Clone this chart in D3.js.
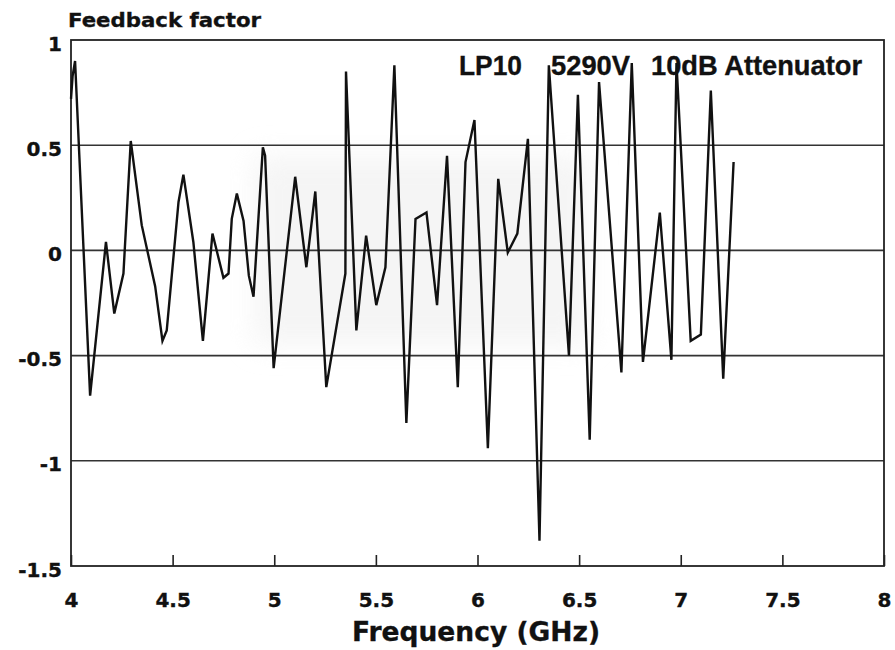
<!DOCTYPE html>
<html>
<head>
<meta charset="utf-8">
<script src="https://cdn.jsdelivr.net/npm/d3@7"></script>
<style>
  html, body { margin: 0; padding: 0; background: #fff; }
  svg text { font-weight: bold; fill: #111; stroke: #111; stroke-width: 0.35px; }
  .dv { font-family: "DejaVu Sans", sans-serif; }
  .lb { font-family: "Liberation Sans", Arial, sans-serif; }
</style>
</head>
<body>
<svg id="chart" width="895" height="650"></svg>
<script>
// Measured feedback factor versus frequency
const freqGHz = [
  4.000, 4.008, 4.020, 4.094, 4.172, 4.213, 4.258, 4.294, 4.348, 4.414,
  4.450, 4.471, 4.529, 4.553, 4.602, 4.649, 4.696, 4.750, 4.775, 4.791,
  4.816, 4.849, 4.875, 4.898, 4.944, 4.955, 4.997, 5.103, 5.158, 5.202,
  5.256, 5.350, 5.353, 5.404, 5.452, 5.502, 5.547, 5.591, 5.650, 5.695,
  5.749, 5.801, 5.850, 5.903, 5.941, 5.985, 6.051, 6.102, 6.149, 6.196,
  6.248, 6.305, 6.351, 6.450, 6.494, 6.552, 6.598, 6.708, 6.759, 6.814,
  6.897, 6.954, 6.979, 7.049, 7.099, 7.148, 7.209, 7.260
];
const feedback = [
  0.72, 0.83, 0.90, -0.69, 0.04, -0.30, -0.11, 0.52, 0.12, -0.17,
  -0.43, -0.38, 0.23, 0.36, 0.04, -0.43, 0.08, -0.13, -0.11, 0.15,
  0.27, 0.14, -0.12, -0.22, 0.49, 0.45, -0.56, 0.35, -0.08, 0.28,
  -0.65, -0.11, 0.85, -0.38, 0.07, -0.26, -0.08, 0.88, -0.82, 0.15,
  0.18, -0.26, 0.45, -0.65, 0.42, 0.62, -0.94, 0.34, -0.01, 0.08,
  0.53, -1.38, 0.88, -0.50, 0.74, -0.90, 0.80, -0.58, 0.89, -0.53,
  0.18, -0.52, 0.89, -0.43, -0.40, 0.76, -0.61, 0.42
];
const xTicks = [4, 4.5, 5, 5.5, 6, 6.5, 7, 7.5, 8];
const yTicks = [1, 0.5, 0, -0.5, -1, -1.5];
const gridValues = [0.5, 0, -0.5, -1];

const svg = d3.select("#chart");
const plotLeft = 71, plotRight = 884, plotTop = 40, plotBottom = 566;

const x = d3.scaleLinear().domain([4, 8]).range([plotLeft, plotRight]);
const y = d3.scaleLinear().domain([-1.5, 1]).range([plotBottom, plotTop]);

// faint grey toning across the middle of the plot
const defs = svg.append("defs");
defs.append("filter").attr("id", "soft")
  .attr("x", "-20%").attr("y", "-20%").attr("width", "140%").attr("height", "140%")
  .append("feGaussianBlur").attr("stdDeviation", 14);
svg.append("rect")
  .attr("x", x(4.9)).attr("y", y(0.45))
  .attr("width", x(6.55) - x(4.9)).attr("height", y(-0.45) - y(0.45))
  .attr("fill", "#f1f1f1").attr("opacity", 0.7)
  .attr("filter", "url(#soft)");

// horizontal grid lines
svg.append("g")
  .selectAll("line")
  .data(gridValues)
  .join("line")
  .attr("x1", plotLeft).attr("x2", plotRight)
  .attr("y1", d => y(d)).attr("y2", d => y(d))
  .attr("stroke", "#333").attr("stroke-width", 1.6);

// frame
svg.append("rect")
  .attr("x", plotLeft).attr("y", plotTop)
  .attr("width", plotRight - plotLeft).attr("height", plotBottom - plotTop)
  .attr("fill", "none").attr("stroke", "#222").attr("stroke-width", 1.8);

// bottom axis: inward ticks, labels below
const xAxis = d3.axisBottom(x)
  .tickValues(xTicks)
  .tickSize(-11)
  .tickFormat(d3.format("~g"));
const gx = svg.append("g").attr("transform", `translate(0,${plotBottom})`).call(xAxis);
gx.select(".domain").remove();
gx.selectAll(".tick line").attr("stroke", "#222").attr("stroke-width", 1.6);
gx.selectAll(".tick text")
  .attr("class", "dv")
  .attr("y", 41).attr("dy", 0)
  .attr("font-family", null).attr("font-size", null)
  .style("font-size", "20px");

// left axis labels
const yAxis = d3.axisLeft(y)
  .tickValues(yTicks)
  .tickSize(0)
  .tickPadding(9)
  .tickFormat(d => d3.format("~g")(d).replace("\u2212", "-"));
const gy = svg.append("g").attr("transform", `translate(${plotLeft},0)`).call(yAxis);
gy.select(".domain").remove();
gy.selectAll(".tick text")
  .attr("class", "dv")
  .attr("dy", "0.5em")
  .style("font-size", "20px");

// data trace
const line = d3.line()
  .x((d, i) => x(freqGHz[i]))
  .y(d => y(d));
svg.append("path")
  .datum(feedback)
  .attr("d", line)
  .attr("fill", "none")
  .attr("stroke", "#111")
  .attr("stroke-width", 2.4)
  .attr("stroke-linejoin", "miter");

// titles
svg.append("text")
  .attr("class", "dv")
  .attr("x", 68).attr("y", 27)
  .attr("textLength", 193).attr("lengthAdjust", "spacingAndGlyphs")
  .style("font-size", "20px")
  .text("Feedback factor");

const notes = [
  { t: "LP10", x0: 459, w: 63 },
  { t: "5290V", x0: 551, w: 79 },
  { t: "10dB Attenuator", x0: 651, w: 211 }
];
svg.append("g").selectAll("text")
  .data(notes)
  .join("text")
  .attr("class", "lb")
  .attr("x", d => d.x0).attr("y", 75)
  .attr("textLength", d => d.w).attr("lengthAdjust", "spacingAndGlyphs")
  .style("font-size", "27px")
  .text(d => d.t);

svg.append("text")
  .attr("class", "dv")
  .attr("x", 476).attr("y", 641)
  .attr("text-anchor", "middle")
  .attr("textLength", 248).attr("lengthAdjust", "spacingAndGlyphs")
  .style("font-size", "27px")
  .text("Frequency (GHz)");
</script>
</body>
</html>
